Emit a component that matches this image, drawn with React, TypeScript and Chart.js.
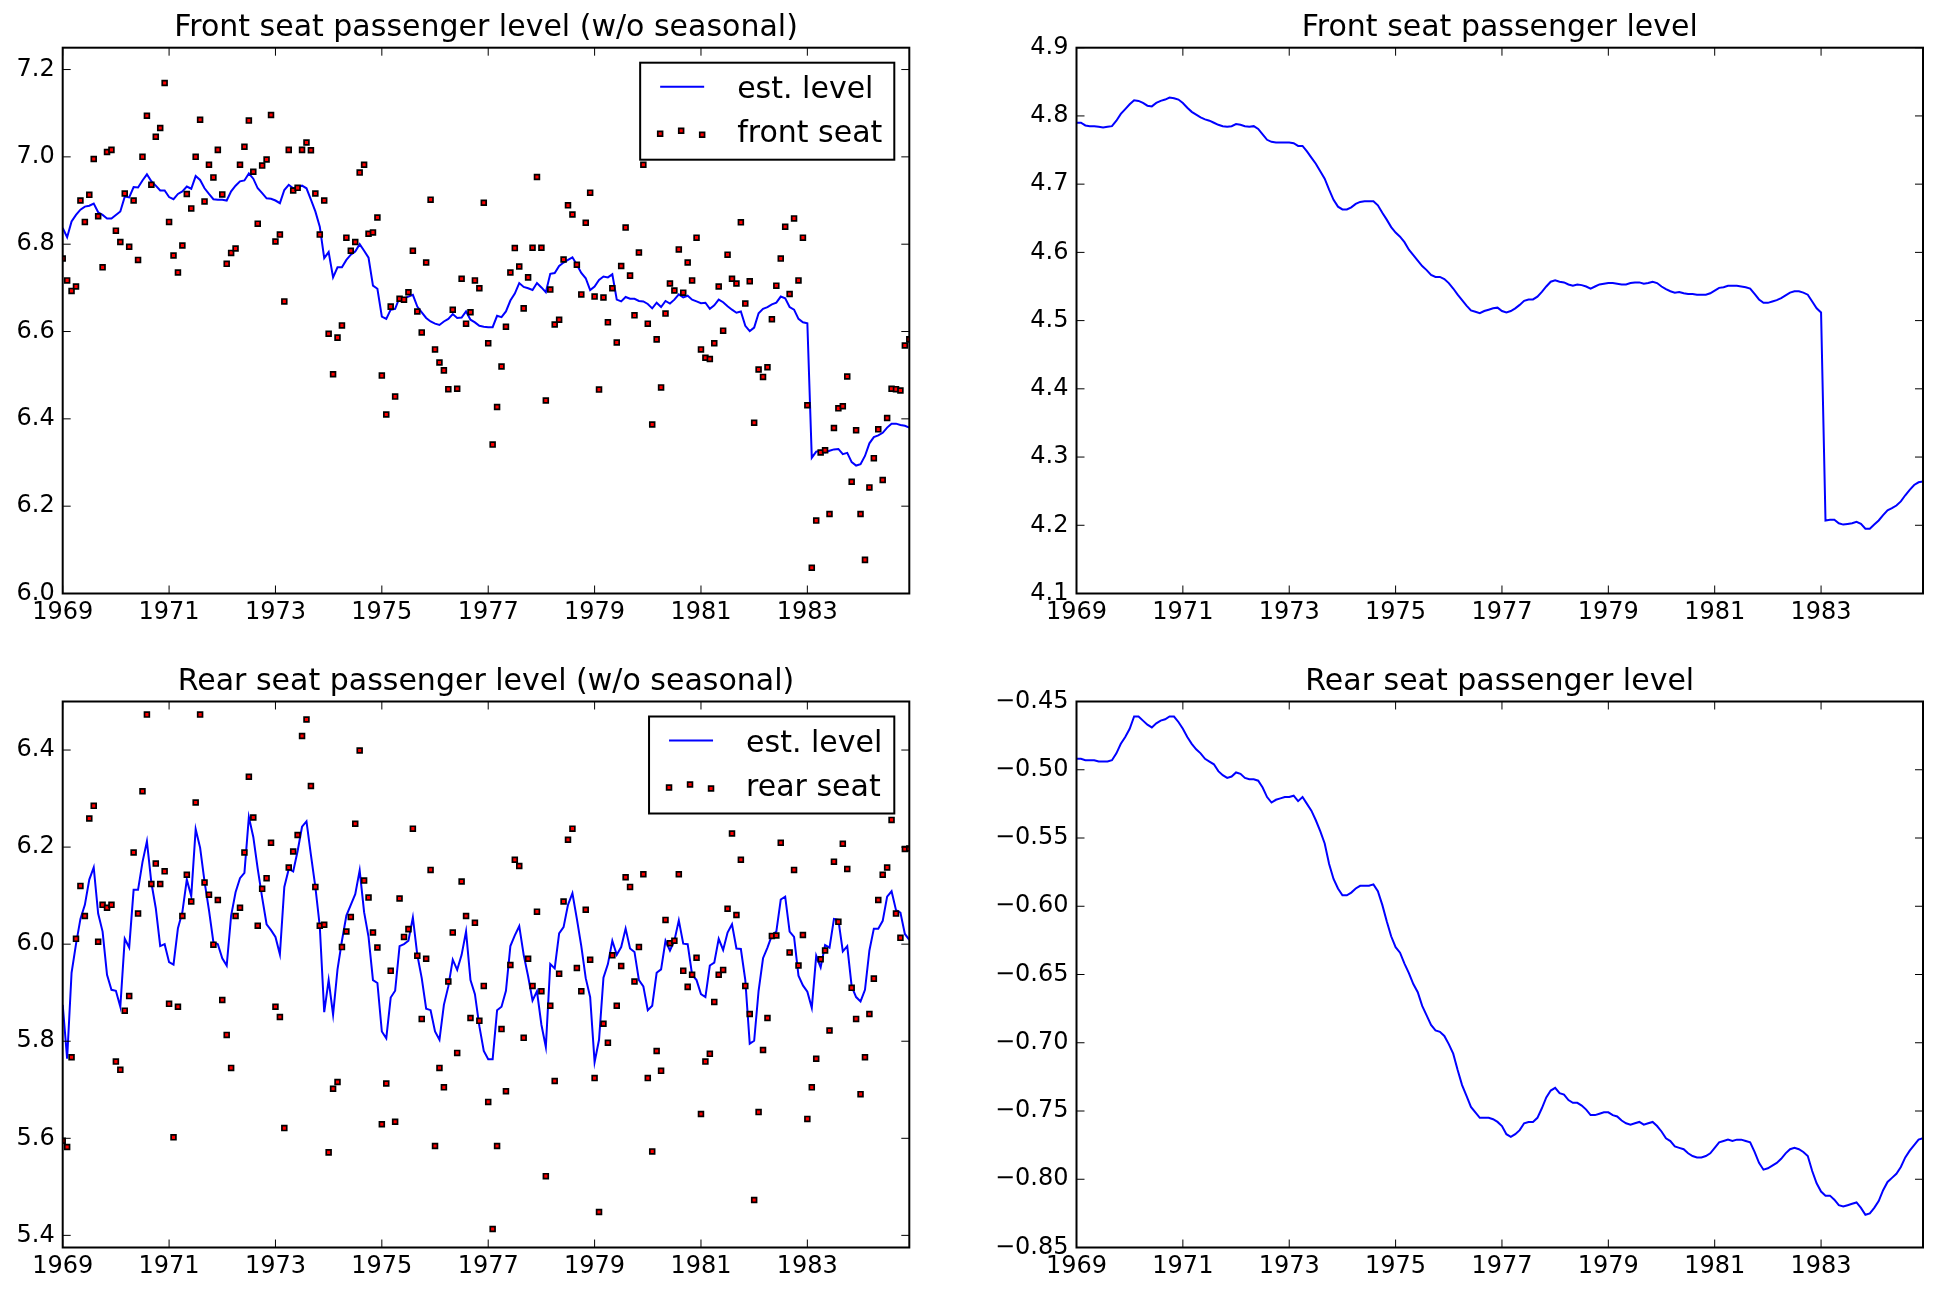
import React, { useEffect, useRef } from "react";
import { Chart, registerables } from "chart.js";

Chart.register(...registerables);

// ---------------- data (log counts, monthly Jan 1969 .. Dec 1984) ----------------
const startYear = 1969;
const xTickYears = [1969, 1971, 1973, 1975, 1977, 1979, 1981, 1983];

const frontSeat = [
  6.767, 6.717, 6.693, 6.703, 6.900, 6.851, 6.913, 6.995, 6.864, 6.747, 7.011, 7.016,
  6.831, 6.805, 6.916, 6.794, 6.900, 6.764, 7.000, 7.094, 6.936, 7.046, 7.066, 7.169,
  6.851, 6.774, 6.735, 6.797, 6.915, 6.882, 7.000, 7.085, 6.898, 6.982, 6.953, 7.016,
  6.914, 6.755, 6.780, 6.790, 6.982, 7.023, 7.083, 6.966, 6.847, 6.980, 6.994, 7.096,
  6.806, 6.822, 6.669, 7.016, 6.923, 6.929, 7.016, 7.033, 7.015, 6.916, 6.822, 6.900,
  6.595, 6.502, 6.586, 6.614, 6.815, 6.785, 6.805, 6.964, 6.982, 6.824, 6.827, 6.861,
  6.499, 6.410, 6.657, 6.451, 6.675, 6.673, 6.690, 6.785, 6.646, 6.598, 6.758, 6.902,
  6.559, 6.529, 6.511, 6.468, 6.650, 6.469, 6.721, 6.618, 6.644, 6.717, 6.699, 6.895,
  6.573, 6.341, 6.427, 6.520, 6.611, 6.735, 6.791, 6.749, 6.653, 6.724, 6.792, 6.954,
  6.792, 6.442, 6.696, 6.616, 6.627, 6.765, 6.889, 6.868, 6.753, 6.685, 6.849, 6.918,
  6.680, 6.467, 6.678, 6.621, 6.699, 6.575, 6.750, 6.838, 6.728, 6.637, 6.781, 6.982,
  6.618, 6.387, 6.582, 6.472, 6.641, 6.710, 6.694, 6.788, 6.689, 6.758, 6.717, 6.815,
  6.559, 6.540, 6.537, 6.573, 6.703, 6.602, 6.776, 6.721, 6.710, 6.850, 6.664, 6.715,
  6.391, 6.513, 6.496, 6.518, 6.628, 6.705, 6.767, 6.840, 6.686, 6.859, 6.717, 6.815,
  6.431, 6.059, 6.167, 6.323, 6.328, 6.182, 6.379, 6.424, 6.429, 6.497, 6.256, 6.374,
  6.182, 6.077, 6.243, 6.310, 6.376, 6.260, 6.402, 6.469, 6.468, 6.465, 6.568, 6.582,
];

const frontEstLevel = [
  6.837, 6.816, 6.852, 6.867, 6.879, 6.886, 6.888, 6.893, 6.873, 6.867, 6.859, 6.859,
  6.867, 6.875, 6.909, 6.907, 6.931, 6.930, 6.946, 6.960, 6.944, 6.934, 6.923, 6.923,
  6.908, 6.903, 6.915, 6.921, 6.932, 6.927, 6.956, 6.947, 6.928, 6.915, 6.903, 6.902,
  6.902, 6.900, 6.921, 6.934, 6.944, 6.946, 6.962, 6.950, 6.928, 6.917, 6.905, 6.904,
  6.900, 6.894, 6.924, 6.936, 6.928, 6.931, 6.934, 6.928, 6.902, 6.875, 6.840, 6.768,
  6.782, 6.724, 6.747, 6.747, 6.764, 6.776, 6.783, 6.800, 6.785, 6.769, 6.705, 6.698,
  6.634, 6.629, 6.650, 6.652, 6.678, 6.676, 6.680, 6.684, 6.657, 6.644, 6.631, 6.623,
  6.618, 6.615, 6.623, 6.629, 6.640, 6.631, 6.632, 6.646, 6.627, 6.621, 6.613, 6.611,
  6.610, 6.610, 6.636, 6.633, 6.646, 6.671, 6.687, 6.711, 6.702, 6.699, 6.695, 6.711,
  6.701, 6.690, 6.732, 6.734, 6.750, 6.758, 6.764, 6.770, 6.753, 6.734, 6.722, 6.695,
  6.703, 6.718, 6.726, 6.724, 6.731, 6.673, 6.669, 6.679, 6.675, 6.675, 6.670, 6.669,
  6.663, 6.653, 6.666, 6.656, 6.670, 6.664, 6.673, 6.685, 6.678, 6.682, 6.673, 6.669,
  6.665, 6.666, 6.652, 6.660, 6.673, 6.667, 6.658, 6.650, 6.643, 6.646, 6.613, 6.601,
  6.609, 6.642, 6.652, 6.656, 6.662, 6.666, 6.680, 6.676, 6.656, 6.650, 6.629, 6.621,
  6.619, 6.311, 6.325, 6.327, 6.323, 6.327, 6.330, 6.331, 6.319, 6.322, 6.301, 6.293,
  6.296, 6.315, 6.344, 6.358, 6.362, 6.368, 6.380, 6.389, 6.389, 6.386, 6.384, 6.380,
];

const rearSeat = [
  5.595, 5.582, 5.767, 6.011, 6.120, 6.058, 6.259, 6.285, 6.005, 6.081, 6.075, 6.081,
  5.758, 5.741, 5.863, 5.893, 6.189, 6.063, 6.315, 6.473, 6.124, 6.166, 6.124, 6.150,
  5.877, 5.602, 5.871, 6.058, 6.143, 6.088, 6.292, 6.473, 6.127, 6.102, 5.999, 6.091,
  5.885, 5.813, 5.745, 6.058, 6.075, 6.189, 6.345, 6.261, 6.038, 6.114, 6.136, 6.209,
  5.871, 5.850, 5.621, 6.158, 6.191, 6.225, 6.429, 6.463, 6.326, 6.118, 6.038, 6.040,
  5.571, 5.702, 5.716, 5.994, 6.026, 6.056, 6.248, 6.399, 6.131, 6.096, 6.024, 5.993,
  5.629, 5.713, 5.945, 5.634, 6.094, 6.015, 6.031, 6.238, 5.976, 5.846, 5.970, 6.153,
  5.584, 5.745, 5.705, 5.923, 6.024, 5.776, 6.129, 6.058, 5.848, 6.044, 5.842, 5.914,
  5.675, 5.413, 5.584, 5.825, 5.697, 5.957, 6.174, 6.161, 5.807, 5.970, 5.914, 6.067,
  5.903, 5.522, 5.873, 5.718, 5.939, 6.088, 6.215, 6.238, 5.951, 5.903, 6.071, 5.968,
  5.724, 5.448, 5.836, 5.797, 5.977, 5.873, 5.955, 6.138, 6.118, 5.923, 5.994, 6.144,
  5.724, 5.573, 5.780, 5.739, 6.050, 6.002, 6.007, 6.144, 5.945, 5.912, 5.937, 5.972,
  5.650, 5.758, 5.774, 5.881, 5.937, 5.947, 6.073, 6.228, 6.060, 6.174, 5.914, 5.856,
  5.473, 5.654, 5.782, 5.848, 6.017, 6.018, 6.209, 6.350, 5.983, 6.153, 5.956, 6.019,
  5.640, 5.705, 5.764, 5.969, 5.987, 5.822, 6.170, 6.046, 6.207, 6.155, 5.910, 5.846,
  5.691, 5.767, 5.856, 5.929, 6.091, 6.143, 6.158, 6.256, 6.063, 6.013, 6.196, 6.197,
];

const rearEstLevel = [
  5.875, 5.764, 5.941, 6.000, 6.052, 6.081, 6.133, 6.158, 6.063, 6.026, 5.937, 5.906,
  5.904, 5.871, 6.011, 5.993, 6.112, 6.112, 6.169, 6.212, 6.127, 6.074, 5.996, 6.000,
  5.963, 5.958, 6.033, 6.066, 6.133, 6.099, 6.237, 6.199, 6.129, 6.070, 6.004, 6.000,
  5.971, 5.956, 6.059, 6.107, 6.136, 6.147, 6.262, 6.221, 6.155, 6.096, 6.041, 6.029,
  6.015, 5.979, 6.118, 6.155, 6.150, 6.192, 6.242, 6.253, 6.184, 6.118, 6.037, 5.860,
  5.926, 5.855, 5.948, 6.007, 6.059, 6.081, 6.103, 6.152, 6.066, 6.015, 5.926, 5.920,
  5.820, 5.806, 5.890, 5.904, 5.996, 6.000, 6.007, 6.055, 5.978, 5.930, 5.867, 5.864,
  5.820, 5.803, 5.875, 5.913, 5.968, 5.947, 5.978, 6.026, 5.926, 5.897, 5.831, 5.780,
  5.763, 5.763, 5.864, 5.871, 5.904, 5.996, 6.018, 6.037, 5.978, 5.934, 5.884, 5.903,
  5.834, 5.788, 5.959, 5.950, 6.022, 6.035, 6.081, 6.105, 6.052, 5.996, 5.930, 5.891,
  5.757, 5.803, 5.931, 5.959, 6.007, 5.978, 5.994, 6.032, 5.991, 5.984, 5.926, 5.913,
  5.864, 5.873, 5.941, 5.948, 6.007, 5.987, 6.007, 6.049, 6.001, 6.000, 5.937, 5.926,
  5.897, 5.891, 5.956, 5.962, 6.011, 5.988, 6.024, 6.041, 5.991, 5.990, 5.926, 5.795,
  5.801, 5.904, 5.971, 5.993, 6.018, 6.026, 6.092, 6.098, 6.026, 6.015, 5.935, 5.915,
  5.902, 5.869, 5.976, 5.952, 5.998, 5.993, 6.052, 6.050, 5.985, 5.996, 5.913, 5.891,
  5.882, 5.906, 5.987, 6.032, 6.032, 6.048, 6.098, 6.109, 6.070, 6.065, 6.021, 6.009,
];

const frontLevel = [
  4.790, 4.790, 4.786, 4.785, 4.785, 4.784, 4.783, 4.784, 4.785, 4.793, 4.803, 4.810,
  4.817, 4.823, 4.822, 4.819, 4.815, 4.814, 4.819, 4.822, 4.824, 4.827, 4.826, 4.824,
  4.819, 4.812, 4.806, 4.802, 4.798, 4.795, 4.793, 4.790, 4.787, 4.785, 4.784, 4.785,
  4.788, 4.787, 4.785, 4.784, 4.785, 4.781, 4.773, 4.765, 4.762, 4.761, 4.761, 4.761,
  4.761, 4.760, 4.756, 4.756, 4.748, 4.739, 4.730, 4.719, 4.708, 4.692, 4.677, 4.667,
  4.663, 4.663, 4.666, 4.671, 4.674, 4.675, 4.675, 4.675, 4.669, 4.658, 4.648, 4.637,
  4.629, 4.623, 4.615, 4.604, 4.596, 4.588, 4.580, 4.574, 4.567, 4.564, 4.564, 4.561,
  4.555, 4.547, 4.538, 4.530, 4.522, 4.515, 4.513, 4.511, 4.514, 4.516, 4.518, 4.519,
  4.514, 4.512, 4.514, 4.518, 4.523, 4.529, 4.531, 4.531, 4.535, 4.542, 4.550, 4.557,
  4.559, 4.557, 4.556, 4.553, 4.551, 4.553, 4.552, 4.550, 4.547, 4.550, 4.553, 4.554,
  4.555, 4.555, 4.554, 4.553, 4.553, 4.555, 4.556, 4.556, 4.554, 4.555, 4.557, 4.555,
  4.550, 4.546, 4.543, 4.541, 4.542, 4.540, 4.539, 4.539, 4.538, 4.538, 4.538, 4.540,
  4.544, 4.548, 4.549, 4.551, 4.551, 4.551, 4.550, 4.549, 4.547, 4.539, 4.531, 4.526,
  4.526, 4.528, 4.530, 4.533, 4.537, 4.541, 4.543, 4.543, 4.541, 4.538, 4.528, 4.518,
  4.512, 4.207, 4.208, 4.208, 4.203, 4.201, 4.202, 4.203, 4.205, 4.202, 4.195, 4.195,
  4.201, 4.207, 4.215, 4.222, 4.225, 4.229, 4.235, 4.244, 4.252, 4.259, 4.263, 4.264,
];

const rearLevel = [
  -0.492, -0.492, -0.493, -0.493, -0.493, -0.494, -0.494, -0.494, -0.493, -0.488, -0.481, -0.476,
  -0.470, -0.461, -0.461, -0.464, -0.467, -0.469, -0.466, -0.464, -0.463, -0.461, -0.461, -0.465,
  -0.470, -0.476, -0.481, -0.485, -0.488, -0.492, -0.494, -0.496, -0.501, -0.504, -0.506, -0.505,
  -0.502, -0.503, -0.506, -0.507, -0.507, -0.508, -0.513, -0.520, -0.524, -0.522, -0.521, -0.520,
  -0.520, -0.519, -0.523, -0.520, -0.525, -0.530, -0.537, -0.545, -0.554, -0.569, -0.580, -0.587,
  -0.592, -0.592, -0.590, -0.587, -0.585, -0.585, -0.585, -0.584, -0.589, -0.599, -0.611, -0.622,
  -0.630, -0.634, -0.642, -0.649, -0.657, -0.663, -0.673, -0.680, -0.687, -0.691, -0.692, -0.695,
  -0.701, -0.708, -0.720, -0.731, -0.739, -0.747, -0.751, -0.755, -0.755, -0.755, -0.756, -0.758,
  -0.761, -0.767, -0.769, -0.767, -0.764, -0.759, -0.758, -0.758, -0.755, -0.748, -0.740, -0.735,
  -0.733, -0.737, -0.738, -0.742, -0.744, -0.744, -0.746, -0.749, -0.753, -0.753, -0.752, -0.751,
  -0.751, -0.753, -0.754, -0.757, -0.759, -0.760, -0.759, -0.758, -0.760, -0.759, -0.758, -0.761,
  -0.765, -0.770, -0.772, -0.776, -0.777, -0.778, -0.781, -0.783, -0.784, -0.784, -0.783, -0.781,
  -0.777, -0.773, -0.772, -0.771, -0.772, -0.771, -0.771, -0.772, -0.773, -0.780, -0.788, -0.793,
  -0.792, -0.790, -0.788, -0.785, -0.781, -0.778, -0.777, -0.778, -0.780, -0.783, -0.794, -0.803,
  -0.809, -0.812, -0.812, -0.815, -0.819, -0.820, -0.819, -0.818, -0.817, -0.821, -0.826, -0.825,
  -0.821, -0.816, -0.808, -0.802, -0.799, -0.796, -0.791, -0.784, -0.779, -0.775, -0.771, -0.770,
];

const frontFitTicks = [6.0, 6.2, 6.4, 6.6, 6.8, 7.0, 7.2];
const frontLevelTicks = [4.1, 4.2, 4.3, 4.4, 4.5, 4.6, 4.7, 4.8, 4.9];
const rearFitTicks = [5.4, 5.6, 5.8, 6.0, 6.2, 6.4];
const rearLevelTicks = [-0.85, -0.8, -0.75, -0.7, -0.65, -0.6, -0.55, -0.5, -0.45];

// ---------------- layout / style ----------------
const W = 1938;
const H = 1295;
const FONT = '"DejaVu Sans", "Liberation Sans", sans-serif';
const TICK_FONT = 24;
const TITLE_FONT = 30;
const AXIS_H = 50;

type Area = { l: number; r: number; t: number; b: number };
type Panel = {
  title: string;
  area: Area;
  axisW: number;
  yMin: number;
  yMax: number;
  yTicks: number[];
  decimals: number;
  line: number[];
  points?: number[];
  legend?: [string, string];
};

const monthX = (i: number) => startYear + i / 12;

const panels: Panel[] = [
  {
    title: "Front seat passenger level (w/o seasonal)",
    area: { l: 62.7, r: 909.3, t: 47.7, b: 593.5 },
    axisW: 60,
    yMin: 6.0, yMax: 7.25, yTicks: frontFitTicks, decimals: 1,
    line: frontEstLevel, points: frontSeat, legend: ["est. level", "front seat"],
  },
  {
    title: "Front seat passenger level",
    area: { l: 1076.5, r: 1923, t: 47.7, b: 593.5 },
    axisW: 110,
    yMin: 4.1, yMax: 4.9, yTicks: frontLevelTicks, decimals: 1,
    line: frontLevel,
  },
  {
    title: "Rear seat passenger level (w/o seasonal)",
    area: { l: 62.7, r: 909.3, t: 701.5, b: 1247.5 },
    axisW: 60,
    yMin: 5.375, yMax: 6.5, yTicks: rearFitTicks, decimals: 1,
    line: rearEstLevel, points: rearSeat, legend: ["est. level", "rear seat"],
  },
  {
    title: "Rear seat passenger level",
    area: { l: 1076.5, r: 1923, t: 701.5, b: 1247.5 },
    axisW: 110,
    yMin: -0.85, yMax: -0.45, yTicks: rearLevelTicks, decimals: 2,
    line: rearLevel,
  },
];

function fmtY(v: number, d: number) {
  const s = Math.abs(v).toFixed(d);
  return v < 0 ? "\u2212" + s : s;
}

function drawMarker(ctx: CanvasRenderingContext2D, x: number, y: number) {
  const half = 2.4;
  ctx.beginPath();
  ctx.rect(x - half, y - half, 2 * half, 2 * half);
  ctx.fillStyle = "#ff0000";
  ctx.fill();
  ctx.lineWidth = 1.7;
  ctx.strokeStyle = "#000000";
  ctx.stroke();
}

function decorPlugin(p: Panel) {
  return {
    id: "decor",
    afterDatasetsDraw(chart: any) {
      const ctx: CanvasRenderingContext2D = chart.ctx;
      const a = chart.chartArea;
      const xs = chart.scales.x;
      const ys = chart.scales.y;
      ctx.save();

      // legend (drawn over the data, like matplotlib's framed legend)
      if (p.legend) {
        ctx.font = `${TITLE_FONT}px ${FONT}`;
        const tw = Math.max(...p.legend.map((s) => ctx.measureText(s).width));
        const boxR = a.right - 15;
        const textL = boxR - 12 - tw;
        const boxL = textL - 97;
        const boxT = a.top + 15;
        const boxH = 97;
        ctx.fillStyle = "#ffffff";
        ctx.fillRect(boxL, boxT, boxR - boxL, boxH);
        ctx.lineWidth = 2;
        ctx.strokeStyle = "#000000";
        ctx.strokeRect(boxL, boxT, boxR - boxL, boxH);
        ctx.beginPath();
        ctx.moveTo(boxL + 20, boxT + 24);
        ctx.lineTo(boxL + 64, boxT + 24);
        ctx.strokeStyle = "#0000ff";
        ctx.lineWidth = 2;
        ctx.stroke();
        drawMarker(ctx, boxL + 20, boxT + 71);
        drawMarker(ctx, boxL + 41, boxT + 68);
        drawMarker(ctx, boxL + 62, boxT + 72);
        ctx.fillStyle = "#000000";
        ctx.textAlign = "left";
        ctx.textBaseline = "alphabetic";
        ctx.fillText(p.legend[0], textL, boxT + 35.5);
        ctx.fillText(p.legend[1], textL, boxT + 79);
      }

      // ticks pointing inward on all four sides
      ctx.strokeStyle = "#000000";
      ctx.lineWidth = 1;
      const tl = 8;
      ctx.beginPath();
      for (const t of xs.ticks) {
        const px = xs.getPixelForValue(t.value);
        ctx.moveTo(px, a.bottom);
        ctx.lineTo(px, a.bottom - tl);
        ctx.moveTo(px, a.top);
        ctx.lineTo(px, a.top + tl);
      }
      for (const t of ys.ticks) {
        const py = ys.getPixelForValue(t.value);
        ctx.moveTo(a.left, py);
        ctx.lineTo(a.left + tl, py);
        ctx.moveTo(a.right, py);
        ctx.lineTo(a.right - tl, py);
      }
      ctx.stroke();

      // frame
      ctx.lineWidth = 2;
      ctx.strokeRect(a.left, a.top, a.right - a.left, a.bottom - a.top);

      // title
      ctx.fillStyle = "#000000";
      ctx.font = `${TITLE_FONT}px ${FONT}`;
      ctx.textAlign = "center";
      ctx.textBaseline = "alphabetic";
      ctx.fillText(p.title, (a.left + a.right) / 2, a.top - 12);

      ctx.restore();
    },
  };
}

function buildChart(canvas: HTMLCanvasElement, p: Panel) {
  const xMin = monthX(0);
  const xMax = monthX(p.line.length - 1);
  const datasets: any[] = [];
  if (p.points) {
    datasets.push({
      type: "scatter",
      data: p.points.map((v, i) => ({ x: monthX(i), y: v })),
      pointStyle: "rect",
      pointRadius: 3.4,
      pointHoverRadius: 3.4,
      backgroundColor: "#ff0000",
      borderColor: "#000000",
      borderWidth: 1.7,
      order: 0,
    });
  }
  datasets.push({
    type: "line",
    data: p.line.map((v, i) => ({ x: monthX(i), y: v })),
    borderColor: "#0000ff",
    borderWidth: 2,
    pointRadius: 0,
    fill: false,
    tension: 0,
    order: 1,
  });

  const tickFont = { family: FONT, size: TICK_FONT };
  return new Chart(canvas, {
    type: "scatter",
    data: { datasets },
    options: {
      responsive: false,
      animation: false,
      devicePixelRatio: 1,
      events: [],
      layout: {
        padding: {
          left: p.area.l - p.axisW,
          right: W - p.area.r,
          top: p.area.t,
          bottom: H - p.area.b - AXIS_H,
        },
      },
      plugins: {
        legend: { display: false },
        tooltip: { enabled: false },
        title: { display: false },
      },
      scales: {
        x: {
          type: "linear",
          min: xMin,
          max: xMax,
          afterBuildTicks: (s: any) => {
            s.ticks = xTickYears.map((v) => ({ value: v }));
          },
          afterFit: (s: any) => {
            s.height = AXIS_H;
          },
          grid: { display: false, drawTicks: false },
          border: { display: false },
          ticks: {
            autoSkip: false,
            maxRotation: 0,
            minRotation: 0,
            padding: 5,
            color: "#000000",
            font: tickFont,
            callback: (v: any) => String(Math.round(Number(v))),
          },
        },
        y: {
          type: "linear",
          min: p.yMin,
          max: p.yMax,
          afterBuildTicks: (s: any) => {
            s.ticks = p.yTicks.map((v) => ({ value: v }));
          },
          afterFit: (s: any) => {
            s.width = p.axisW;
          },
          grid: { display: false, drawTicks: false },
          border: { display: false },
          ticks: {
            autoSkip: false,
            padding: 8,
            color: "#000000",
            font: tickFont,
            callback: (v: any) => fmtY(Number(v), p.decimals),
          },
        },
      },
    } as any,
    plugins: [decorPlugin(p)],
  });
}

export default function App() {
  const refs = useRef<(HTMLCanvasElement | null)[]>([]);

  useEffect(() => {
    document.body.style.margin = "0";
    document.body.style.overflow = "hidden";
    document.body.style.background = "#ffffff";
    const charts = panels.map((p, i) => buildChart(refs.current[i] as HTMLCanvasElement, p));
    return () => charts.forEach((c) => c.destroy());
  }, []);

  return (
    <div style={{ position: "fixed", left: 0, top: 0, width: W, height: H, background: "#ffffff" }}>
      {panels.map((p, i) => (
        <canvas
          key={i}
          ref={(el) => {
            refs.current[i] = el;
          }}
          width={W}
          height={H}
          style={{ position: "absolute", left: 0, top: 0, width: W, height: H }}
        />
      ))}
    </div>
  );
}
